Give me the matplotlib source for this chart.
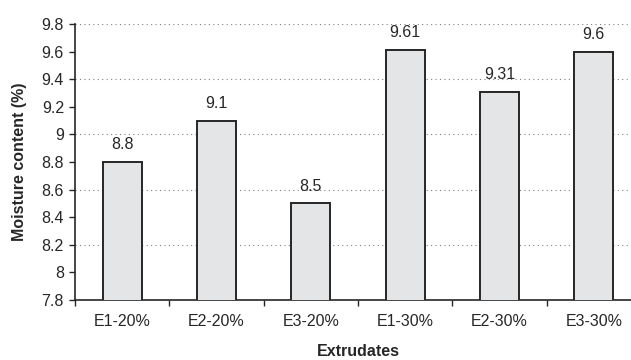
import numpy as np
import matplotlib
matplotlib.use('Agg')
import matplotlib.pyplot as plt
from matplotlib.ticker import FixedLocator, NullFormatter

plt.rcParams['font.family'] = ['Liberation Sans', 'DejaVu Sans']

# moisture content of the extrudates
categories = ["E1-20%", "E2-20%", "E3-20%", "E1-30%", "E2-30%", "E3-30%"]
moisture = [8.8, 9.1, 8.5, 9.61, 9.31, 9.6]
value_labels = ["8.8", "9.1", "8.5", "9.61", "9.31", "9.6"]
y_ticks = [7.8, 8.0, 8.2, 8.4, 8.6, 8.8, 9.0, 9.2, 9.4, 9.6, 9.8]
y_tick_labels = ["7.8", "8", "8.2", "8.4", "8.6", "8.8", "9", "9.2", "9.4", "9.6", "9.8"]
grid_levels = [8.2, 8.6, 9.0, 9.4, 9.8]

ink = "#262626"
fs = 11.5

fig = plt.figure(figsize=(6.31, 3.6), dpi=100)
# the plot area runs a little past the right edge of the figure
ax = fig.add_axes([75 / 631, 60 / 360, 566 / 631, 276 / 360])

x = np.arange(len(categories))
ax.bar(x, moisture, width=0.415, bottom=0, color="#e4e5e7",
       edgecolor=ink, linewidth=1.4, zorder=3)

for xi, v, lab in zip(x, moisture, value_labels):
    ax.annotate(lab, (xi, v), xytext=(0, 7), textcoords="offset points",
                ha="center", va="bottom", fontsize=fs, color=ink, zorder=4)

for g in grid_levels:
    ax.axhline(g, color="#808080", linestyle=(0, (1, 3)), linewidth=0.8, zorder=1)

ax.set_xlim(-0.5, len(categories) - 0.5)
ax.set_ylim(7.8, 9.8)

ax.set_yticks(y_ticks)
ax.set_yticklabels(y_tick_labels, fontsize=fs, color=ink)

ax.set_xticks(x)
ax.set_xticklabels(categories, fontsize=fs, color=ink)
ax.tick_params(axis='x', which='major', length=0, pad=10)
ax.xaxis.set_minor_locator(FixedLocator(np.arange(len(categories) + 1) - 0.5))
ax.xaxis.set_minor_formatter(NullFormatter())
ax.tick_params(axis='x', which='minor', length=4, width=1, color=ink, direction='out')
ax.tick_params(axis='y', length=4, width=1, color=ink, direction='out', pad=4)

for side in ['top', 'right']:
    ax.spines[side].set_visible(False)
for side in ['left', 'bottom']:
    ax.spines[side].set_color(ink)
    ax.spines[side].set_linewidth(1.2)

ax.set_ylabel("Moisture content (%)", fontsize=fs, fontweight="bold", color=ink, labelpad=10)
ax.set_xlabel("Extrudates", fontsize=fs, fontweight="bold", color=ink, labelpad=11)

plt.savefig("out.png", dpi=100)
